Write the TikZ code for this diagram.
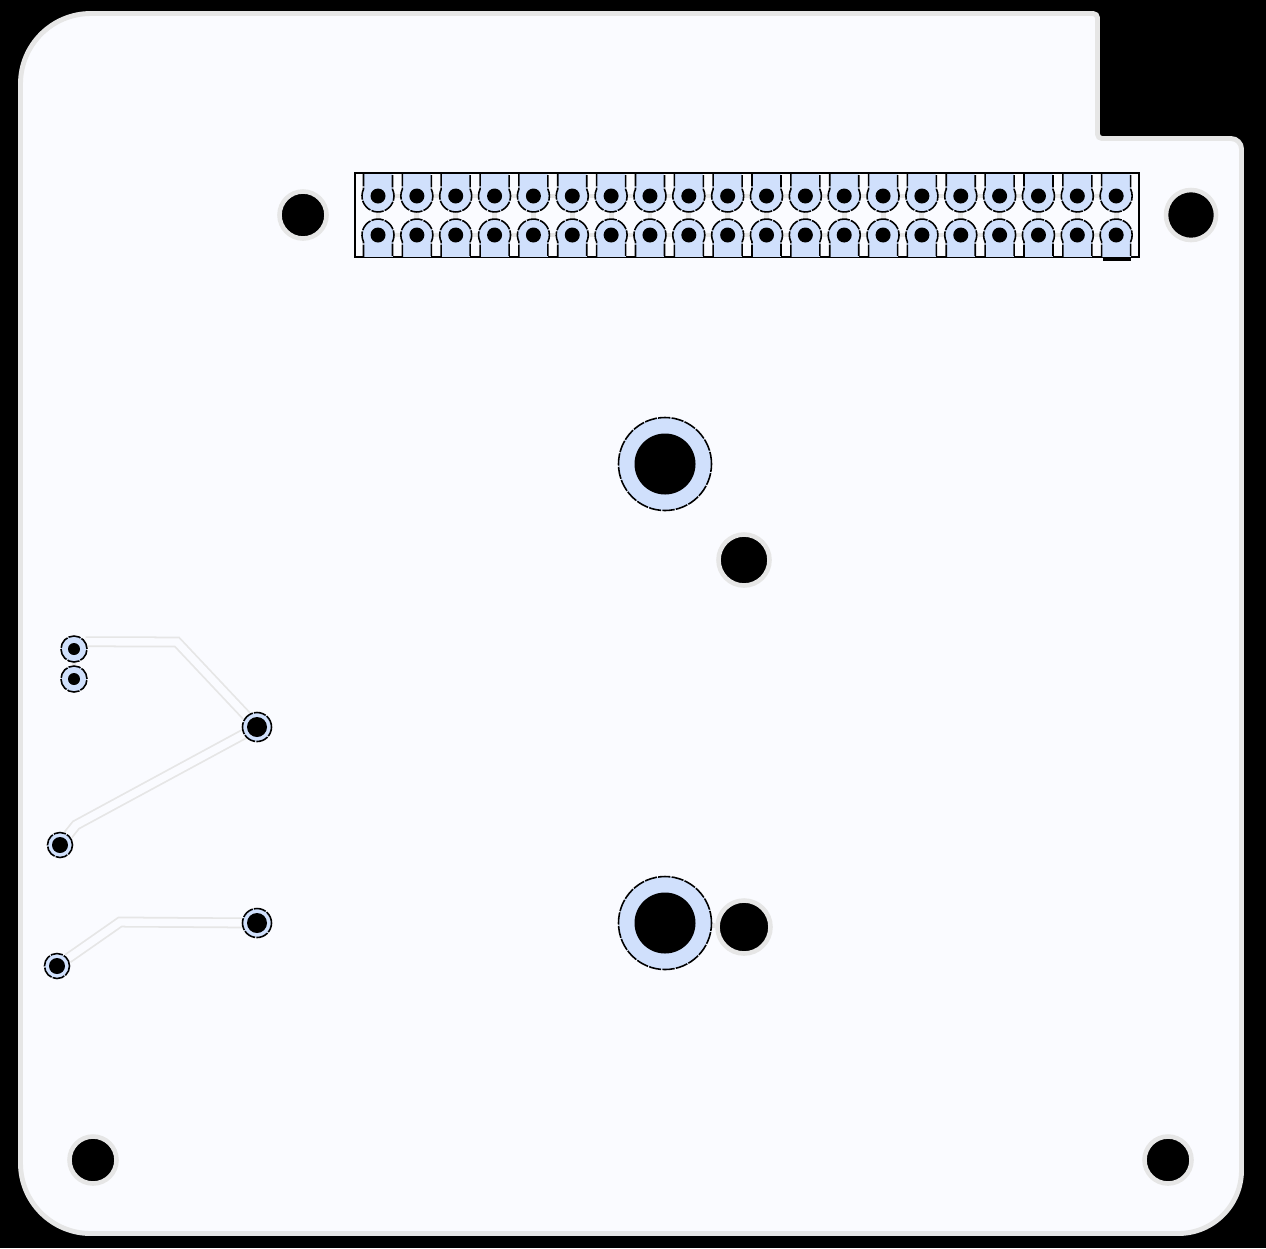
\documentclass[tikz,border=0pt]{standalone}
\usetikzlibrary{backgrounds}
\definecolor{boardwhite}{HTML}{FAFBFF}
\definecolor{edgegray}{HTML}{E6E6E6}
\definecolor{padblue}{HTML}{D0E0FC}
\tikzset{
    boardedge/.style={draw=edgegray, fill=boardwhite, line width=2.8pt},
    padfill/.style={fill=padblue},
    padoutline/.style={draw=black, line width=0.9pt, dash pattern=on 7pt off 0.7pt},
    roundpad/.style={circle, fill=padblue, inner sep=0, minimum size=#1*0.02cm},
    viapad/.style={roundpad=#1, padoutline},
    drillhole/.style={circle, fill=black, inner sep=0, minimum size=#1*0.02cm},
    mounthole/.style={circle, fill=black, draw=edgegray, line width=2.6pt, inner sep=0, minimum size=#1*0.02cm},
    spoke/.style={draw=edgegray, line width=2.8pt},
    trace/.style={draw=edgegray, line width=1pt, double=boardwhite, double distance=4.2pt}
}
\begin{document}
\begin{tikzpicture}[x=0.02cm, y=-0.02cm]

            \useasboundingbox (0,0) rectangle (1266,1248);

            \draw[black, line width=1.1pt] (355,173) rectangle (1139,257);
            \fill[black] (1103,258) rectangle (1131,261);

            \foreach \i in {0,...,19}{
                \pgfmathsetmacro{\px}{378+38.85*\i}
                \fill[padfill] (\px-14.5,174) rectangle (\px+14.5,196);
                \fill[padfill] (\px-14.5,235) rectangle (\px+14.5,257);
                \node[roundpad=32] (top\i) at (\px,196) {};
                \node[roundpad=32] (bot\i) at (\px,235) {};
                \draw[padoutline] (\px-14.5,174) -- (\px-14.5,189.2)
                    arc[start angle=155, delta angle=230, radius=0.32cm] -- (\px+14.5,174);
                \draw[padoutline] (\px-14.5,257) -- (\px-14.5,241.8)
                    arc[start angle=205, delta angle=-230, radius=0.32cm] -- (\px+14.5,257);
                \node[drillhole=15] (tophole\i) at (\px,196) {};
                \node[drillhole=15] (bothole\i) at (\px,235) {};
            }

            \node[mounthole=47] (mountA) at (303,215) {};
            \node[mounthole=50] (mountB) at (1191,215) {};
            \node[mounthole=47] (mountC) at (93,1160) {};
            \node[mounthole=47] (mountD) at (1168,1160) {};
            \node[mounthole=51] (mountE) at (744,560) {};
            \node[mounthole=53] (mountF) at (744,927) {};

            \node[viapad=93] (bigA) at (665,464) {};
            \node[drillhole=61] at (665,464) {};
            \node[viapad=93] (bigB) at (665,923) {};
            \node[drillhole=61] at (665,923) {};

            \node[viapad=26] (viaA) at (74,649) {};
            \node[drillhole=12] at (74,649) {};
            \node[viapad=26] (viaB) at (74,679) {};
            \node[drillhole=12] at (74,679) {};
            \node[viapad=29] (viaC) at (257,727) {};
            \node[drillhole=20] at (257,727) {};
            \node[viapad=25] (viaD) at (60,845) {};
            \node[drillhole=16] at (60,845) {};
            \node[viapad=29] (viaE) at (257,923) {};
            \node[drillhole=20] at (257,923) {};
            \node[viapad=25] (viaF) at (57,966) {};
            \node[drillhole=16] at (57,966) {};

            \coordinate (bendA) at (177,642);
            \coordinate (bendB) at (76,825);
            \coordinate (bendC) at (120,922);

            \begin{pgfonlayer}{background}
                \fill[black] (0,0) rectangle (1266,1248);
                \draw[boardedge] (20.5,600) [rounded corners=40pt] -- (20.5,13.5)
                    [rounded corners=2.5pt] -- (1097.5,13.5)
                    -- (1097.5,138.5) [rounded corners=6pt] -- (1241.5,138.5)
                    [rounded corners=36pt] -- (1241.5,1233.5)
                    [rounded corners=40pt] -- (20.5,1233.5) -- cycle;

                \foreach \i [evaluate=\i as \j using int(\i+1)] in {0,...,18}{
                    \draw[spoke] (top\i) -- (top\j);
                    \draw[spoke] (bot\i) -- (bot\j);
                }
                \foreach \i in {0,...,19}
                    \draw[spoke] (top\i) -- (bot\i);
                \draw[spoke] (viaA) -- (viaB);
                \draw[spoke] (bigB) -- (mountF);

                \draw[trace] (viaA.32) -- (bendA) -- (viaC);
                \draw[trace] (viaC) -- (bendB) -- (viaD);
                \draw[trace] (viaE) -- (bendC) -- (viaF);
            \end{pgfonlayer}
        \end{tikzpicture}
\end{document}
